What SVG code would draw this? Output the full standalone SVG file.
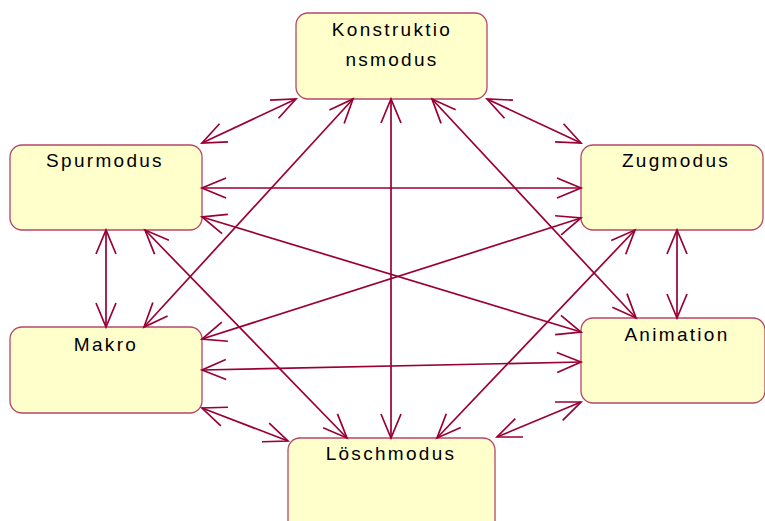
<svg xmlns="http://www.w3.org/2000/svg" width="765" height="521" viewBox="0 0 765 521">
<style>
.box{fill:#ffffcc;stroke:#b5476b;stroke-width:1.3}
.lbl{font-family:"Liberation Sans",Arial,sans-serif;font-size:19px;letter-spacing:2.3px;fill:#000;text-anchor:middle}
.c line{stroke:#990033;stroke-width:1.7;fill:none;marker-start:url(#ah);marker-end:url(#ah)}
</style>
<defs>
<marker id="ah" markerUnits="userSpaceOnUse" markerWidth="30" markerHeight="30" refX="0" refY="0" viewBox="-28 -14 30 28" orient="auto-start-reverse" overflow="visible">
<path d="M-24,-10 L0,0 L-24,10" fill="none" stroke="#990033" stroke-width="1.7"/>
</marker>
</defs>
<rect width="765" height="521" fill="#fff"/>
<g id="konstruktionsmodus"><rect class="box" x="296" y="13" width="191" height="86" rx="12"/><text class="lbl" x="392" y="36">Konstruktio</text><text class="lbl" x="392" y="66">nsmodus</text></g>
<g id="spurmodus"><rect class="box" x="10" y="145" width="192" height="85" rx="12"/><text class="lbl" x="105" y="167">Spurmodus</text></g>
<g id="zugmodus"><rect class="box" x="581" y="145" width="182" height="85" rx="12"/><text class="lbl" x="676" y="167">Zugmodus</text></g>
<g id="makro"><rect class="box" x="10" y="327" width="192" height="86" rx="12"/><text class="lbl" x="106" y="351">Makro</text></g>
<g id="animation"><rect class="box" x="581" y="318" width="184" height="85" rx="12"/><text class="lbl" x="677" y="341">Animation</text></g>
<g id="loeschmodus"><rect class="box" x="288" y="438" width="207" height="100" rx="12"/><text class="lbl" x="391" y="460">Löschmodus</text></g>
<g class="c" id="connectors">
<line x1="202" y1="143" x2="296" y2="99"/>
<line x1="487" y1="99" x2="581" y2="143"/>
<line x1="144" y1="327" x2="353" y2="99"/>
<line x1="391" y1="99" x2="391" y2="438"/>
<line x1="432" y1="99" x2="636" y2="318"/>
<line x1="202" y1="188" x2="581" y2="188"/>
<line x1="106" y1="230" x2="106" y2="327"/>
<line x1="202" y1="217" x2="581" y2="332"/>
<line x1="145" y1="230" x2="347" y2="438"/>
<line x1="581" y1="218" x2="202" y2="339"/>
<line x1="677" y1="230" x2="677" y2="318"/>
<line x1="635" y1="230" x2="437" y2="438"/>
<line x1="202" y1="370" x2="581" y2="362"/>
<line x1="202" y1="408" x2="288" y2="441"/>
<line x1="581" y1="402" x2="497" y2="437"/>
</g>
</svg>
